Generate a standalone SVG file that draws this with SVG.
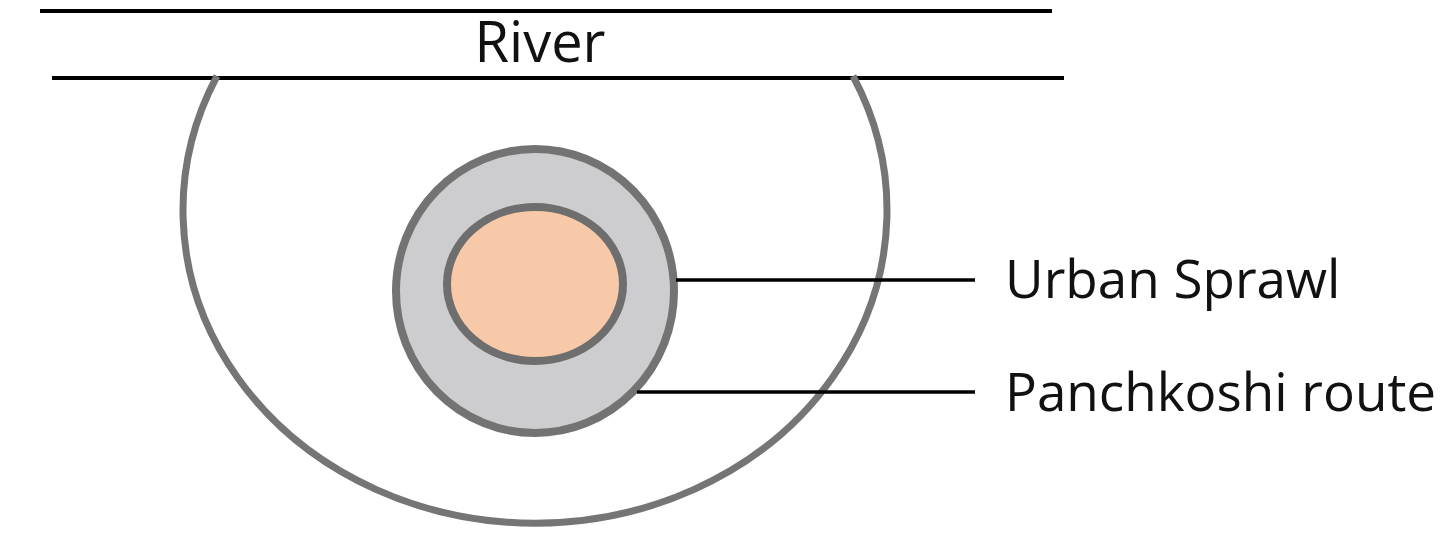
<svg xmlns="http://www.w3.org/2000/svg" width="1454" height="537" viewBox="0 0 1454 537">
<style>
.lbl{font-family:"Open Sans","Noto Sans",sans-serif;font-size:56px;fill:#111}
.side{font-size:53px}
.river{stroke:#000;stroke-width:4;fill:none}
.ring{stroke:#757575;fill:none}
.conn{stroke:#000;stroke-width:3.5;fill:none}
</style>
<rect width="1454" height="537" fill="#fff"/>
<g id="river">
<line class="river" x1="40" y1="11" x2="1052" y2="11"/>
<line class="river" x1="52" y1="78" x2="1064" y2="78"/>
<text class="lbl" x="540" y="62" text-anchor="middle">River</text>
</g>
<g id="panchkoshi">
<path class="ring" stroke-width="7" d="M217,76 A352 313 0 1 0 853,76"/>
</g>
<g id="urban-sprawl">
<ellipse cx="535" cy="291" rx="139" ry="142" fill="#cdcdcf" stroke="#737373" stroke-width="8"/>
</g>
<g id="core">
<ellipse cx="535" cy="284" rx="88" ry="77" fill="#f7c9a9" stroke="#6e6e6e" stroke-width="8"/>
</g>
<g id="connectors">
<line class="conn" x1="676" y1="280" x2="975" y2="280"/>
<line class="conn" x1="637" y1="392" x2="975" y2="392"/>
</g>
<g id="labels">
<text class="lbl side" x="1005" y="298">Urban Sprawl</text>
<text class="lbl side" x="1005" y="411">Panchkoshi route</text>
</g>
</svg>
